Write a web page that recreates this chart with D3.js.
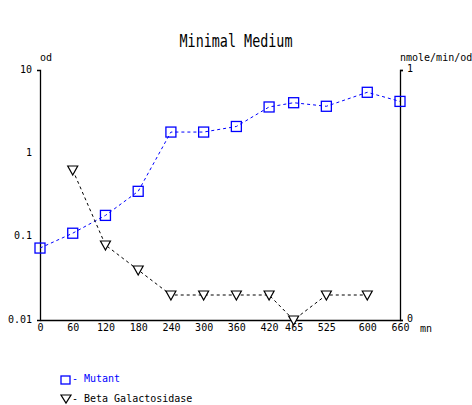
<!DOCTYPE html>
<html>
<head>
<meta charset="utf-8">
<script src="https://cdn.jsdelivr.net/npm/d3@7"></script>
<style>
body { margin:0; background:#fff; }
svg text { font-family: "DejaVu Sans Mono", monospace; }
</style>
</head>
<body>
<svg width="472" height="405"></svg>
<script>
// data
var times = [0, 60, 120, 180, 240, 300, 360, 420, 465, 525, 600, 660];
var mutant = [0.073, 0.11, 0.18, 0.35, 1.8, 1.8, 2.1, 3.6, 4.05, 3.67, 5.4, 4.2];
var betaTimes = [60, 120, 180, 240, 300, 360, 420, 465, 525, 600];
var betaGal = [0.6, 0.3, 0.2, 0.1, 0.1, 0.1, 0.1, 0, 0.1, 0.1];
var leftTicks = [10, 1, 0.1, 0.01];
var leftTickLabels = ["10", "1", "0.1", "0.01"];
var rightTicks = [0, 1];

var svg = d3.select("svg");

var x = d3.scaleLinear().domain([0, 660]).range([40, 400]);
var yL = d3.scaleLog().domain([0.01, 10]).range([320, 70]);
var yR = d3.scaleLinear().domain([0, 1]).range([320, 70]);

// title
svg.append("text").attr("x", 236).attr("y", 47).attr("text-anchor", "middle")
    .attr("font-size", 17).attr("textLength", 113).attr("lengthAdjust", "spacingAndGlyphs")
    .text("Minimal Medium");

// left axis
var gl = svg.append("g").attr("transform", "translate(40,0)");
gl.call(d3.axisLeft(yL).tickValues(leftTicks).tickSizeInner(0).tickSizeOuter(3).tickPadding(8)
    .tickFormat(function(d, i) { return leftTickLabels[i]; }));
gl.selectAll(".tick text").attr("dy", "0.2em");
gl.append("text").attr("x", 0).attr("y", 61).attr("fill", "#000").attr("text-anchor", "start")
    .attr("font-size", 10).text("od");

// right axis
var gr = svg.append("g").attr("transform", "translate(400,0)");
gr.call(d3.axisRight(yR).tickValues(rightTicks).tickSizeInner(3).tickSizeOuter(3).tickPadding(4)
    .tickFormat(d3.format("d")));
gr.selectAll(".tick text").attr("dy", "0.1em");
gr.append("text").attr("x", 0).attr("y", 61).attr("fill", "#000").attr("text-anchor", "start")
    .attr("font-size", 10).text("nmole/min/od");

// bottom axis
var gb = svg.append("g").attr("transform", "translate(0,320)");
gb.call(d3.axisBottom(x).tickValues(times).tickSizeInner(1).tickSizeOuter(0).tickPadding(3)
    .tickFormat(d3.format("d")));
gb.append("text").attr("x", 420).attr("y", 12).attr("fill", "#000").attr("text-anchor", "start")
    .attr("font-size", 10).text("mn");

svg.selectAll(".tick text").attr("font-size", 10).attr("font-family", "DejaVu Sans Mono");
svg.selectAll(".domain, .tick line").attr("stroke", "#000").attr("stroke-width", 1.3);

// mutant line
var lineM = d3.line().x(function(d, i) { return x(times[i]); }).y(function(d) { return yL(d); });
svg.append("path").datum(mutant).attr("d", lineM).attr("fill", "none")
    .attr("stroke", "#0000ff").attr("stroke-width", 1).attr("stroke-dasharray", "3,3");
svg.selectAll(".sq").data(mutant).enter().append("rect")
    .attr("x", function(d, i) { return x(times[i]) - 5; })
    .attr("y", function(d) { return yL(d) - 5; })
    .attr("width", 10).attr("height", 10)
    .attr("fill", "none").attr("stroke", "#0000ff").attr("stroke-width", 1.3);

// beta galactosidase line
var lineB = d3.line().x(function(d, i) { return x(betaTimes[i]); }).y(function(d) { return yR(d); });
svg.append("path").datum(betaGal).attr("d", lineB).attr("fill", "none")
    .attr("stroke", "#000").attr("stroke-width", 1).attr("stroke-dasharray", "3,3");
svg.selectAll(".tri").data(betaGal).enter().append("path")
    .attr("transform", function(d, i) { return "translate(" + x(betaTimes[i]) + "," + yR(d) + ")"; })
    .attr("d", "M-5,-4L5,-4L0,5Z")
    .attr("fill", "#fff").attr("stroke", "#000").attr("stroke-width", 1.2);

// legend
var leg = svg.append("g");
leg.append("rect").attr("x", 61).attr("y", 376).attr("width", 9).attr("height", 8)
    .attr("fill", "none").attr("stroke", "#0000ff").attr("stroke-width", 1.3);
leg.append("text").attr("x", 72).attr("y", 382).attr("font-size", 10).attr("fill", "#0000ff").text("-");
leg.append("text").attr("x", 84).attr("y", 382).attr("font-size", 10).attr("fill", "#0000ff").text("Mutant");
leg.append("path").attr("d", "M61,395L71,395L66,403Z")
    .attr("fill", "none").attr("stroke", "#000").attr("stroke-width", 1.2);
leg.append("text").attr("x", 72).attr("y", 402).attr("font-size", 10).text("-");
leg.append("text").attr("x", 84).attr("y", 402).attr("font-size", 10).text("Beta Galactosidase");
</script>
</body>
</html>
